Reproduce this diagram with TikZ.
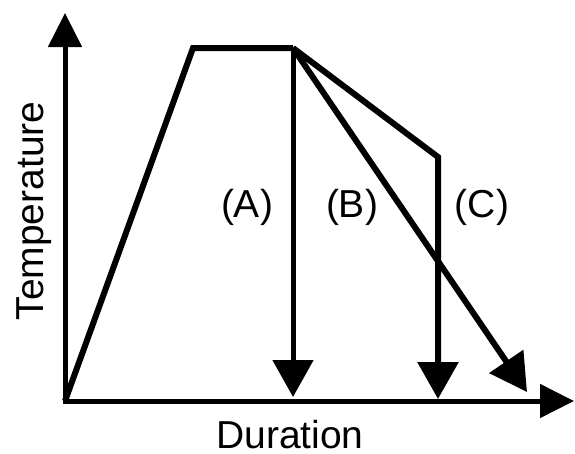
\documentclass[tikz,border=0pt]{standalone}
\usepackage{fontspec}
\setmainfont{Liberation Sans}
\usetikzlibrary{arrows.meta}
\begin{document}
\begin{tikzpicture}[x=1pt,y=-1pt,
  thickline/.style={line width=5pt, line join=miter},
  bigtip/.style={-{Triangle[length=37pt,width=40pt]}},
  axistip/.style={-{Triangle[length=34pt,width=33pt]}},
  lbl/.style={font=\fontsize{39}{39}\selectfont, inner sep=0pt, anchor=base}]
\useasboundingbox (0,0) rectangle (575,453);
\coordinate (O) at (65,401);
\coordinate (Ytip) at (65,13);
\coordinate (Xtip) at (574,401);
\coordinate (P1) at (193,48);
\coordinate (P2) at (293,48);
\coordinate (Aend) at (293,397);
\coordinate (Bend) at (527,392);
\coordinate (Cmid) at (438,157);
\coordinate (Cend) at (438,399);
% axes
\draw[thickline, axistip] (O) -- (Ytip);
\draw[thickline, axistip] ([xshift=-2.5pt]O) -- (Xtip);
% heating and holding
\draw[line width=6pt, line join=miter] (O) -- (P1) -- (P2);
% cooling paths
\draw[line width=5pt, bigtip] (P2) -- (Aend);
\draw[line width=6pt, bigtip] (P2) -- (Bend);
\draw[line width=6pt, line join=miter, bigtip] (P2) -- (Cmid) -- (Cend);
% labels
\node[lbl] (la) at (247,217) {(A)};
\node[lbl] (lb) at (352,217) {(B)};
\node[lbl] (lc) at (482,217) {(C)};
\node[lbl] (dur) at (290,448) {Duration};
\node[lbl, rotate=90] (temp) at (43,211) {Temperature};
\end{tikzpicture}
\end{document}
